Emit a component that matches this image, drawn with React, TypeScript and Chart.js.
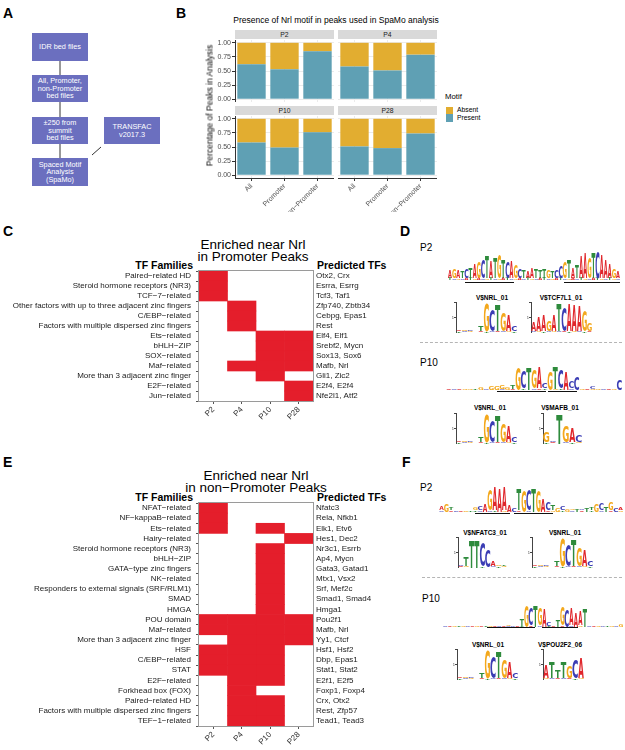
import React, { useEffect, useRef } from 'react';
import { Chart, registerables } from 'chart.js';

Chart.register(...registerables);

const FONT = "'Liberation Sans', Arial, Helvetica, sans-serif";
const LOGO_FONT = "'DejaVu Sans', 'Liberation Sans', Arial, sans-serif";

// ---------------- Panel B data ----------------
const B_GROUPS = ['All', 'Promoter', 'non\u2212Promoter'];
const B_PRESENT_P2 = [0.62, 0.53, 0.85];
const B_PRESENT_P4 = [0.58, 0.51, 0.79];
const B_PRESENT_P10 = [0.58, 0.49, 0.76];
const B_PRESENT_P28 = [0.51, 0.48, 0.74];
const B_Y_TICKS = [0, 0.25, 0.5, 0.75, 1];
const PRESENT_COLOR = '#5FA0B4';
const ABSENT_COLOR = '#E2AD30';

// ---------------- Heatmap data ----------------
const STAGES = ['P2', 'P4', 'P10', 'P28'];
const HEAT_RED = '#E41E2B';

const C_FAMILIES = [
  'Paired\u2212related HD',
  'Steroid hormone receptors (NR3)',
  'TCF\u22127\u2212related',
  'Other factors with up to three adjacent zinc fingers',
  'C/EBP\u2212related',
  'Factors with multiple dispersed zinc fingers',
  'Ets\u2212related',
  'bHLH\u2212ZIP',
  'SOX\u2212related',
  'Maf\u2212related',
  'More than 3 adjacent zinc finger',
  'E2F\u2212related',
  'Jun\u2212related',
];
const C_TFS = [
  'Otx2, Crx', 'Esrra, Esrrg', 'Tcf3, Taf1', 'Zfp740, Zbtb34', 'Cebpg, Epas1', 'Rest',
  'Elf4, Elf1', 'Srebf2, Mycn', 'Sox13, Sox6', 'Mafb, Nrl', 'Gli1, Zic2', 'E2f4, E2f4', 'Nfe2l1, Atf2',
];
// rows x [P2, P4, P10, P28]
const C_PRESENT = [
  [1, 0, 0, 0], [1, 0, 0, 0], [1, 0, 0, 0],
  [0, 1, 0, 0], [0, 1, 0, 0], [0, 1, 0, 0],
  [0, 0, 1, 1], [0, 0, 1, 1], [0, 0, 1, 1],
  [0, 1, 1, 1], [0, 0, 1, 0], [0, 0, 0, 1], [0, 0, 0, 1],
];

const E_FAMILIES = [
  'NFAT\u2212related', 'NF\u2212kappaB\u2212related', 'Ets\u2212related', 'Hairy\u2212related',
  'Steroid hormone receptors (NR3)', 'bHLH\u2212ZIP', 'GATA\u2212type zinc fingers', 'NK\u2212related',
  'Responders to external signals (SRF/RLM1)', 'SMAD', 'HMGA', 'POU domain', 'Maf\u2212related',
  'More than 3 adjacent zinc finger', 'HSF', 'C/EBP\u2212related', 'STAT', 'E2F\u2212related',
  'Forkhead box (FOX)', 'Paired\u2212related HD', 'Factors with multiple dispersed zinc fingers', 'TEF\u22121\u2212related',
];
const E_TFS = [
  'Nfatc3', 'Rela, Nfkb1', 'Elk1, Etv6', 'Hes1, Dec2', 'Nr3c1, Esrrb', 'Ap4, Mycn', 'Gata3, Gatad1',
  'Mtx1, Vsx2', 'Srf, Mef2c', 'Smad1, Smad4', 'Hmga1', 'Pou2f1', 'Mafb, Nrl', 'Yy1, Ctcf', 'Hsf1, Hsf2',
  'Dbp, Epas1', 'Stat1, Stat2', 'E2f1, E2f5', 'Foxp1, Foxp4', 'Crx, Otx2', 'Rest, Zfp57', 'Tead1, Tead3',
];
const E_PRESENT = [
  [1, 0, 0, 0], [1, 0, 0, 0], [1, 0, 1, 0], [0, 0, 0, 1],
  [0, 0, 1, 0], [0, 0, 1, 0], [0, 0, 1, 0], [0, 0, 1, 0], [0, 0, 1, 0], [0, 0, 1, 0], [0, 0, 1, 0],
  [1, 1, 1, 1], [1, 1, 1, 1], [0, 1, 1, 1],
  [1, 1, 1, 0], [1, 1, 1, 0], [1, 1, 1, 0],
  [0, 1, 1, 0], [0, 1, 0, 0], [0, 1, 1, 0], [0, 1, 1, 0], [0, 1, 1, 0],
];

// ---------------- Sequence logo data ----------------
// top letter per column, its height (bits), and one small letter drawn beneath ('.' = none)
const NRL_SEQ = 'AGCATGCTGAC';
const NRL_HTS = [0.05, 0.05, 0.05, 0.05, 0.35, 1.8, 1.4, 1.7, 1.2, 1.0, 0.3];
const NRL_UNDER = 'TCG.ATCACGT';

const TCF_SEQ = 'AAAGATCAAAGG';
const TCF_HTS = [0.6, 0.9, 1.0, 0.7, 1.0, 1.8, 1.6, 1.8, 1.7, 1.6, 1.3, 0.5];
const TCF_UNDER = 'CGTCGCATGCTA';

const MAFB_SEQ = 'GCTGAC';
const MAFB_HTS = [0.7, 0.1, 1.9, 1.0, 0.9, 0.4];
const MAFB_UNDER = 'TA.CTG';

const NFATC3_SEQ = 'CTTTCCAGTT';
const NFATC3_HTS = [0.1, 0.6, 1.8, 1.8, 1.6, 1.2, 0.3, 0.05, 0.05, 0.05];
const NFATC3_UNDER = 'AG..T.CTG.';

const POU_SEQ = 'ATTTGCA';
const POU_HTS = [0.8, 1.0, 0.5, 1.0, 0.8, 1.2, 1.3];
const POU_UNDER = 'GCACATG';

const D_P2_SEQ = 'AGATCTAGCTATGTCAGCTAATTTGTCCGTATAAGTCAAAGA';
const D_P2_HTS = [0.5, 0.6, 0.5, 0.4, 0.6, 0.7, 0.9, 1.0, 1.2, 1.4, 1.1, 1.3, 1.6, 1.2, 1.0, 1.1, 0.9, 0.6, 0.5, 0.4, 0.7, 0.6, 0.5, 0.6, 0.5, 0.4, 0.5, 0.8, 1.0, 1.2, 0.7, 0.8, 1.4, 1.6, 1.3, 1.6, 1.7, 1.5, 1.2, 0.9, 0.6, 0.4];
const D_P2_UNDER = 'TCGCATGACGTCGATCGACTGCATCGATCGACTGCATGCTGC';

const D_P10_SEQ = 'ACAGGTGCGGGGTGCTGACGTCACCGACGCAGC';
const D_P10_HTS = [0.05, 0.05, 0.05, 0.08, 0.1, 0.05, 0.25, 0.1, 0.3, 0.3, 0.3, 0.2, 0.3, 1.9, 1.5, 1.9, 1.6, 1.7, 0.4, 1.6, 1.9, 1.6, 1.5, 0.5, 1.1, 0.15, 0.05, 0.2, 0.05, 0.1, 0.1, 0.15, 0.9];
const D_P10_UNDER = '..........C.A.T.CAT.GT.C...G.....';

const F_P2_SEQ = 'AGTCAGTGCAGAAAACTGCTGACTGCGGTCTTGCTGCA';
const F_P2_HTS = [0.3, 0.6, 0.2, 0.05, 0.05, 0.05, 0.05, 0.2, 0.3, 0.6, 1.5, 1.8, 1.8, 1.8, 0.5, 0.3, 1.6, 1.7, 1.6, 1.8, 1.7, 1.0, 0.6, 0.4, 0.3, 0.3, 0.2, 0.1, 0.2, 0.1, 0.3, 0.2, 0.6, 0.5, 0.4, 0.6, 0.3, 0.2];
const F_P2_UNDER = 'C.A....TC.CT.G..A.C...AG.T.C.A.T.C.A.G';

const F_P10_SEQ = 'CAGTGCAGATGACAGCATGCTGACATGCAAATCAGCTGCG';
const F_P10_HTS = [0.05, 0.05, 0.05, 0.05, 0.05, 0.05, 0.05, 0.05, 0.05, 0.05, 0.05, 0.05, 0.05, 0.1, 0.1, 0.05, 0.1, 0.5, 1.9, 1.5, 1.8, 1.5, 1.6, 0.3, 0.05, 0.6, 1.6, 1.5, 1.5, 1.3, 1.2, 1.6, 0.05, 0.05, 0.1, 0.05, 0.1, 0.05, 0.05, 0.2];
const F_P10_UNDER = '..............C..T.A.C.T..A.C.G.........';

const LETTER_COLORS: Record<string, string> = {
  A: '#E0262B',
  C: '#3B3DB4',
  G: '#F3A81C',
  T: '#2E8B3C',
};
const UNDER_H = 0.12;

// ---------------- helpers ----------------
function useChart(makeConfig: () => any) {
  const ref = useRef<HTMLCanvasElement | null>(null);
  useEffect(() => {
    if (!ref.current) return;
    const chart = new Chart(ref.current, makeConfig());
    return () => chart.destroy();
  }, []);
  return ref;
}

function ChartBox(props: { left: number; top: number; width: number; height: number; config: () => any }) {
  const ref = useChart(props.config);
  return (
    <div style={{ position: 'absolute', left: props.left, top: props.top, width: props.width, height: props.height }}>
      <canvas ref={ref} width={props.width} height={props.height} style={{ width: props.width, height: props.height, display: 'block' }} />
    </div>
  );
}

const baseOptions = {
  responsive: false,
  maintainAspectRatio: false,
  animation: false,
  devicePixelRatio: 1,
  events: [],
  plugins: { legend: { display: false }, tooltip: { enabled: false }, title: { display: false } },
};

const noPad = (s: any) => {
  s.paddingTop = 0;
  s.paddingBottom = 0;
  s.paddingLeft = 0;
  s.paddingRight = 0;
};

// ---------- Panel B facet ----------
function facetConfig(present: number[], showY: boolean, showX: boolean) {
  return () => ({
    type: 'bar',
    data: {
      labels: B_GROUPS,
      datasets: [
        { label: 'Present', data: present, backgroundColor: PRESENT_COLOR },
        { label: 'Absent', data: present.map((p) => Math.round((1 - p) * 1000) / 1000), backgroundColor: ABSENT_COLOR },
      ],
    },
    options: {
      ...baseOptions,
      layout: { padding: 0 },
      datasets: { bar: { barPercentage: 0.86, categoryPercentage: 1, borderWidth: 0 } },
      scales: {
        x: {
          stacked: true,
          offset: true,
          grid: { color: '#EBEBEB', offset: false, drawTicks: showX, tickLength: 3, tickColor: '#333', lineWidth: 1 },
          border: { display: showX, color: '#333' },
          ticks: { display: showX, autoSkip: false, maxRotation: 45, minRotation: 45, padding: 1, color: '#4D4D4D', font: { size: 7, family: FONT } },
          afterFit: (s: any) => { s.height = showX ? 34 : 0; noPad(s); },
        },
        y: {
          stacked: true,
          min: -0.05,
          max: 1.05,
          afterBuildTicks: (s: any) => { s.ticks = B_Y_TICKS.map((v) => ({ value: v })); },
          grid: { color: '#EBEBEB', drawTicks: showY, tickLength: 3, tickColor: '#333' },
          border: { display: showY, color: '#333' },
          ticks: { display: showY, padding: 1, color: '#4D4D4D', font: { size: 7, family: FONT }, callback: (v: any) => Number(v).toFixed(2) },
          afterFit: (s: any) => { s.width = showY ? 35 : 0; noPad(s); },
        },
      },
    },
  });
}

// ---------- Heatmap ----------
const borderPlugin = {
  id: 'panelBorder',
  afterDraw(chart: any) {
    const { ctx, chartArea: a } = chart;
    ctx.save();
    ctx.strokeStyle = '#9A9A9A';
    ctx.lineWidth = 1;
    ctx.strokeRect(Math.round(a.left) - 0.5, Math.round(a.top) - 0.5, Math.round(a.right - a.left) + 1, Math.round(a.bottom - a.top) + 1);
    ctx.restore();
  },
};

function heatConfig(families: string[], tfs: string[], present: number[][]) {
  return () => ({
    type: 'bar',
    data: {
      labels: families,
      datasets: STAGES.map((st, ci) => ({
        label: st,
        data: present.map((row) => (row[ci] ? [ci, ci + 1] : null)),
        backgroundColor: HEAT_RED,
        borderWidth: 0,
        grouped: false,
        barPercentage: 1,
        categoryPercentage: 1,
      })),
    },
    options: {
      ...baseOptions,
      indexAxis: 'y',
      layout: { padding: { top: 5, bottom: 0, left: 0, right: 0 } },
      scales: {
        x: {
          type: 'linear',
          min: 0,
          max: 4,
          afterBuildTicks: (s: any) => { s.ticks = STAGES.map((_, i) => ({ value: i + 0.5 })); },
          grid: { drawOnChartArea: false, drawTicks: true, tickLength: 3, tickColor: '#555' },
          border: { display: false },
          ticks: { maxRotation: 45, minRotation: 45, padding: 1, color: '#333', font: { size: 8, family: FONT }, callback: (v: any) => STAGES[Math.floor(Number(v))] },
          afterFit: (s: any) => { s.height = 22; noPad(s); },
        },
        y: {
          type: 'category',
          position: 'left',
          offset: true,
          grid: { drawOnChartArea: false, drawTicks: true, tickLength: 3, tickColor: '#555' },
          border: { display: false },
          ticks: { autoSkip: false, padding: 5, color: '#1A1A1A', font: { size: 8, family: FONT } },
          afterFit: (s: any) => { s.width = 199; noPad(s); },
        },
        y2: {
          type: 'category',
          position: 'right',
          labels: tfs,
          offset: true,
          grid: { display: false, drawTicks: false },
          border: { display: false },
          ticks: { autoSkip: false, padding: 3, color: '#1A1A1A', font: { size: 8, family: FONT } },
          afterFit: (s: any) => { s.width = 87; noPad(s); },
        },
      },
    },
    plugins: [borderPlugin],
  });
}

// ---------- Sequence logos ----------
function drawGlyph(ctx: CanvasRenderingContext2D, ch: string, x: number, y: number, w: number, h: number, color: string) {
  ctx.save();
  ctx.font = `bold 100px ${LOGO_FONT}`;
  ctx.textBaseline = 'alphabetic';
  ctx.textAlign = 'left';
  const m = ctx.measureText(ch);
  const gl = -m.actualBoundingBoxLeft;
  const gr = m.actualBoundingBoxRight;
  const gt = -m.actualBoundingBoxAscent;
  const gb = m.actualBoundingBoxDescent;
  const gw = gr - gl;
  const gh = gb - gt;
  ctx.translate(x, y);
  ctx.scale(w / gw, h / gh);
  ctx.fillStyle = color;
  ctx.fillText(ch, -gl, -gt);
  ctx.restore();
}

const logoPlugin = {
  id: 'logoLetters',
  afterDatasetsDraw(chart: any) {
    const ctx = chart.ctx;
    chart.data.datasets.forEach((ds: any, di: number) => {
      const meta = chart.getDatasetMeta(di);
      meta.data.forEach((el: any, i: number) => {
        const letter = ds.letters[i];
        if (!letter || letter === '.') return;
        const { x, y, base, width } = el.getProps(['x', 'y', 'base', 'width'], true);
        const top = Math.min(y, base);
        const h = Math.abs(base - y);
        if (h < 0.4) return;
        drawGlyph(ctx, letter, x - width / 2, top, width, h, LETTER_COLORS[letter] || '#000');
      });
    });
  },
};

function logoConfig(seq: string, hts: number[], under: string, withAxis: boolean) {
  const tops = seq.split('');
  const unders = under.split('');
  return () => ({
    type: 'bar',
    data: {
      labels: tops.map((_, i) => String(i)),
      datasets: [
        { letters: unders, data: unders.map((c) => (c === '.' ? 0 : UNDER_H)), backgroundColor: 'rgba(0,0,0,0)', borderWidth: 0 },
        { letters: tops, data: hts, backgroundColor: 'rgba(0,0,0,0)', borderWidth: 0 },
      ],
    },
    options: {
      ...baseOptions,
      layout: { padding: 0 },
      datasets: { bar: { barPercentage: 0.94, categoryPercentage: 1 } },
      scales: {
        x: { stacked: true, display: false },
        y: {
          stacked: true,
          min: 0,
          max: 2,
          display: withAxis,
          afterBuildTicks: (s: any) => { s.ticks = [0, 1, 2].map((v) => ({ value: v })); },
          grid: { drawOnChartArea: false, drawTicks: true, tickLength: 2, tickColor: '#444' },
          border: { display: true, color: '#444' },
          ticks: { padding: 0, color: '#444', font: { size: 4, family: FONT }, callback: (v: any) => (Number(v) === 1 ? '1' : '') },
          afterFit: (s: any) => { s.width = 6; noPad(s); },
        },
      },
    },
    plugins: [logoPlugin],
  });
}

// ---------------- static pieces ----------------
const abs = (l: number, t: number, extra: React.CSSProperties = {}): React.CSSProperties => ({ position: 'absolute', left: l, top: t, ...extra });

function PanelLabel({ ch, l, t }: { ch: string; l: number; t: number }) {
  return <div style={abs(l, t, { fontSize: 14, fontWeight: 'bold', lineHeight: '14px' })}>{ch}</div>;
}

function FlowBox({ l, t, w, h, lines }: { l: number; t: number; w: number; h: number; lines: string[] }) {
  return (
    <div style={abs(l, t, { width: w, height: h, background: '#6B6FBF', color: '#fff', fontSize: 7.3, lineHeight: '7.6px', display: 'flex', flexDirection: 'column', alignItems: 'center', justifyContent: 'center', textAlign: 'center' })}>
      {lines.map((s, i) => <div key={i}>{s}</div>)}
    </div>
  );
}

function Text({ l, t, w, children, size, bold, align, color }: any) {
  return (
    <div style={abs(l, t, { width: w, fontSize: size, fontWeight: bold ? 'bold' : 'normal', textAlign: align || 'left', color: color || '#000', lineHeight: `${size * 1.15}px`, whiteSpace: 'nowrap' })}>
      {children}
    </div>
  );
}

function Line({ l, t, w, dashed }: { l: number; t: number; w: number; dashed?: boolean }) {
  return <div style={abs(l, t, { width: w, height: 0, borderTop: dashed ? '1px dashed #B5B5B5' : '1.2px solid #111' })} />;
}

function Strip({ l, t, label }: { l: number; t: number; label: string }) {
  return (
    <div style={abs(l, t, { width: 99, height: 9.7, background: '#D9D9D9', fontSize: 6.8, lineHeight: '9.7px', textAlign: 'center', color: '#1A1A1A' })}>{label}</div>
  );
}

export default function App() {
  return (
    <div style={{ position: 'absolute', left: 0, top: 0, width: 625, height: 750, background: '#fff', fontFamily: FONT, overflow: 'hidden' }}>
      {/* Panel A */}
      <PanelLabel ch="A" l={3} t={6} />
      <svg width={180} height={200} style={abs(0, 0)}>
        <line x1={60} y1={61} x2={60} y2={75} stroke="#333" strokeWidth={1} />
        <line x1={60} y1={102} x2={60} y2={117} stroke="#333" strokeWidth={1} />
        <line x1={60} y1={144} x2={60} y2={158} stroke="#333" strokeWidth={1} />
        <line x1={101} y1={147} x2={92} y2={155} stroke="#333" strokeWidth={1} />
      </svg>
      <FlowBox l={32} t={33} w={56} h={28} lines={['IDR bed files']} />
      <FlowBox l={32} t={75} w={56} h={27} lines={['All, Promoter,', 'non-Promoter', 'bed files']} />
      <FlowBox l={32} t={117} w={56} h={27} lines={['\u00b1250 from', 'summit', 'bed files']} />
      <FlowBox l={32} t={158} w={56} h={28} lines={['Spaced Motif', 'Analysis', '(SpaMo)']} />
      <FlowBox l={104} t={117} w={56} h={27} lines={['TRANSFAC', 'v2017.3']} />

      {/* Panel B */}
      <PanelLabel ch="B" l={176} t={6} />
      <Text l={200} t={16} w={272} size={8.5} align="center">Presence of Nrl motif in peaks used in SpaMo analysis</Text>
      <Strip l={235} t={29.5} label="P2" />
      <Strip l={338} t={29.5} label="P4" />
      <Strip l={235} t={105.8} label="P10" />
      <Strip l={338} t={105.8} label="P28" />
      <ChartBox left={200} top={39.5} width={134} height={62.3} config={facetConfig(B_PRESENT_P2, true, false)} />
      <ChartBox left={338} top={39.5} width={99} height={62.3} config={facetConfig(B_PRESENT_P4, false, false)} />
      <ChartBox left={200} top={115.5} width={134} height={96.3} config={facetConfig(B_PRESENT_P10, true, true)} />
      <ChartBox left={338} top={115.5} width={99} height={96.3} config={facetConfig(B_PRESENT_P28, false, true)} />
      <div style={abs(130, 100, { width: 160, height: 11, fontSize: 8.5, lineHeight: '11px', textAlign: 'center', transform: 'rotate(-90deg)', transformOrigin: '50% 50%', whiteSpace: 'nowrap' })}>
        Percentage of Peaks in Analysis
      </div>
      <Text l={445} t={93} size={7.8}>Motif</Text>
      <div style={abs(446, 106.7, { width: 7, height: 7.2, background: ABSENT_COLOR })} />
      <div style={abs(446, 114.4, { width: 7, height: 7.2, background: PRESENT_COLOR })} />
      <Text l={457} t={106.3} size={6.8}>Absent</Text>
      <Text l={457} t={114} size={6.8}>Present</Text>

      {/* Panel C */}
      <PanelLabel ch="C" l={3} t={224} />
      <Text l={153} t={237} w={200} size={13.5} align="center">Enriched near Nrl</Text>
      <Text l={153} t={249} w={200} size={13.5} align="center">in Promoter Peaks</Text>
      <Text l={93} t={259} w={100} size={10.5} bold align="right">TF Families</Text>
      <Text l={317} t={259} size={10.5} bold>Predicted TFs</Text>
      <ChartBox left={0} top={266} width={400} height={157} config={heatConfig(C_FAMILIES, C_TFS, C_PRESENT)} />

      {/* Panel E */}
      <PanelLabel ch="E" l={3} t={455} />
      <Text l={156} t={468} w={200} size={13.5} align="center">Enriched near Nrl</Text>
      <Text l={156} t={480} w={200} size={13.5} align="center">in non{'\u2212'}Promoter Peaks</Text>
      <Text l={93} t={491} w={100} size={10.5} bold align="right">TF Families</Text>
      <Text l={317} t={491} size={10.5} bold>Predicted TFs</Text>
      <ChartBox left={0} top={498} width={400} height={250} config={heatConfig(E_FAMILIES, E_TFS, E_PRESENT)} />

      {/* Panel D */}
      <PanelLabel ch="D" l={400} t={224} />
      <Text l={420} t={242} size={10}>P2</Text>
      <ChartBox left={442} top={249} width={178} height={31} config={logoConfig(D_P2_SEQ, D_P2_HTS, D_P2_UNDER, false)} />
      <Line l={465} t={281.5} w={49} />
      <Line l={564} t={281.5} w={56} />
      <Text l={452} t={294} w={80} size={6.5} bold align="center">V$NRL_01</Text>
      <Text l={521} t={294} w={80} size={6.5} bold align="center">V$TCF7L1_01</Text>
      <ChartBox left={450} top={302} width={67} height={31} config={logoConfig(NRL_SEQ, NRL_HTS, NRL_UNDER, true)} />
      <ChartBox left={525} top={302} width={67} height={31} config={logoConfig(TCF_SEQ, TCF_HTS, TCF_UNDER, true)} />
      <Line l={420} t={342} w={202} dashed />
      <Text l={420} t={357} size={10}>P10</Text>
      <ChartBox left={440} top={366} width={182} height={24} config={logoConfig(D_P10_SEQ, D_P10_HTS, D_P10_UNDER, false)} />
      <Line l={497} t={390.5} w={49} />
      <Line l={548} t={390.5} w={29} />
      <Text l={450} t={404} w={80} size={6.5} bold align="center">V$NRL_01</Text>
      <Text l={520} t={404} w={80} size={6.5} bold align="center">V$MAFB_01</Text>
      <ChartBox left={450} top={413} width={67} height={31} config={logoConfig(NRL_SEQ, NRL_HTS, NRL_UNDER, true)} />
      <ChartBox left={537} top={413} width={45} height={31} config={logoConfig(MAFB_SEQ, MAFB_HTS, MAFB_UNDER, true)} />

      {/* Panel F */}
      <PanelLabel ch="F" l={402} t={455} />
      <Text l={420} t={482} size={10}>P2</Text>
      <ChartBox left={433} top={486} width={190} height={26} config={logoConfig(F_P2_SEQ, F_P2_HTS, F_P2_UNDER, false)} />
      <Line l={475} t={513} w={35} />
      <Line l={514} t={513} w={39} />
      <Text l={445} t={529} w={80} size={6.5} bold align="center">V$NFATC3_01</Text>
      <Text l={525} t={529} w={80} size={6.5} bold align="center">V$NRL_01</Text>
      <ChartBox left={452} top={537} width={60} height={31} config={logoConfig(NFATC3_SEQ, NFATC3_HTS, NFATC3_UNDER, true)} />
      <ChartBox left={526} top={537} width={67} height={31} config={logoConfig(NRL_SEQ, NRL_HTS, NRL_UNDER, true)} />
      <Line l={422} t={577} w={200} dashed />
      <Text l={422} t={593} size={10}>P10</Text>
      <ChartBox left={437} top={604} width={186} height={23} config={logoConfig(F_P10_SEQ, F_P10_HTS, F_P10_UNDER, false)} />
      <Line l={487} t={627} w={48} />
      <Line l={542} t={627} w={36} />
      <Text l={448} t={641} w={80} size={6.5} bold align="center">V$NRL_01</Text>
      <Text l={520} t={641} w={80} size={6.5} bold align="center">V$POU2F2_06</Text>
      <ChartBox left={451} top={649} width={67} height={31} config={logoConfig(NRL_SEQ, NRL_HTS, NRL_UNDER, true)} />
      <ChartBox left={537} top={649} width={47} height={31} config={logoConfig(POU_SEQ, POU_HTS, POU_UNDER, true)} />
    </div>
  );
}
